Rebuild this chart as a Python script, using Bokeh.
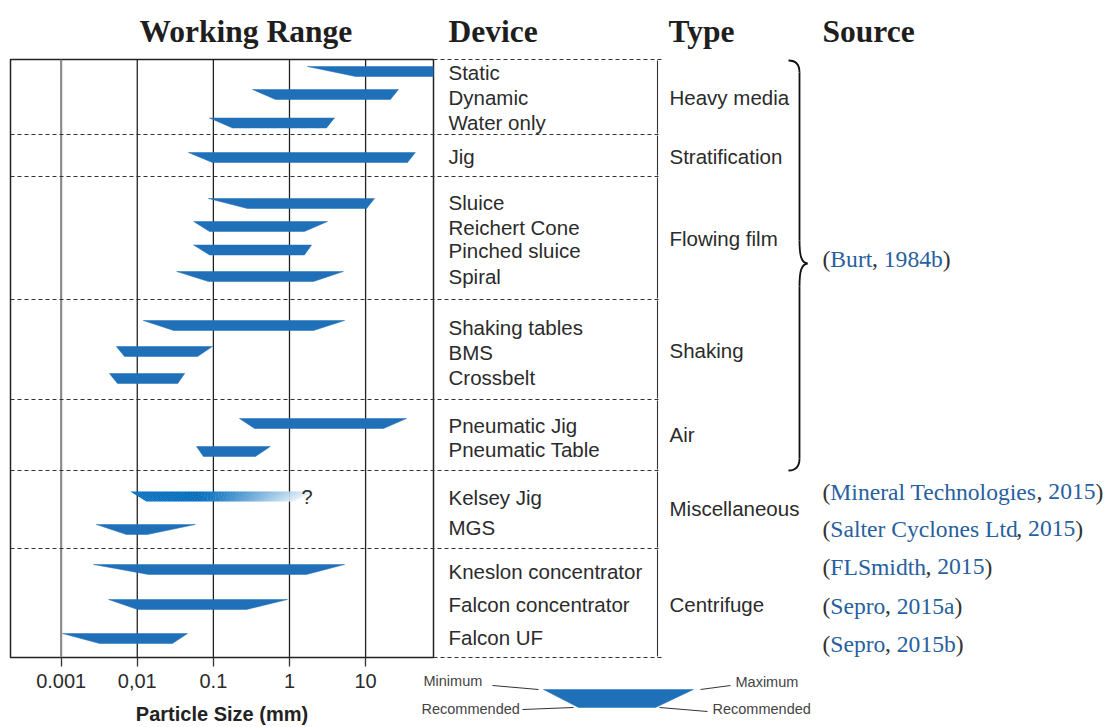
import numpy as np
from bokeh.plotting import figure
from bokeh.models import Range1d, LinearScale, FixedTicker, CustomJSTickFormatter
from bokeh.core.properties import value
from bokeh.embed import file_html
from bokeh.resources import INLINE

# ---------------- data ----------------
devices = ["Static", "Dynamic", "Water only", "Jig", "Sluice", "Reichert Cone",
           "Pinched sluice", "Spiral", "Shaking tables", "BMS", "Crossbelt",
           "Pneumatic Jig", "Pneumatic Table", "Kelsey Jig", "MGS",
           "Kneslon concentrator", "Falcon concentrator", "Falcon UF"]
size_min = [1.72, 0.327, 0.089, 0.047, 0.086, 0.055, 0.055, 0.033, 0.012, 0.0053,
            0.0043, 0.22, 0.060, 0.0081, 0.0029, 0.00266, 0.0042, 0.00104]
rec_min = [7.4, 0.655, 0.178, 0.097, 0.28, 0.089, 0.089, 0.086, 0.030, 0.0068,
           0.0055, 0.347, 0.074, 0.0132, 0.0072, 0.014, 0.0101, 0.0032]
rec_max = [100, 21.2, 3.06, 35.5, 10.3, 1.57, 1.57, 2.07, 2.07, 0.062,
           0.034, 17.2, 0.357, 1.13, 0.0136, 1.67, 0.272, 0.029]
size_max = [100, 27.0, 3.9, 45.0, 13.1, 3.16, 1.95, 5.1, 5.3, 0.097,
            0.042, 34.5, 0.56, 2.07, 0.058, 5.3, 0.94, 0.0457]
uncertain = ["Kelsey Jig"]
types = ["Heavy media", "Stratification", "Flowing film", "Shaking", "Air",
         "Miscellaneous", "Centrifuge"]
cite_authors = ["Burt", "Mineral Technologies", "Salter Cyclones Ltd", "FLSmidth",
                "Sepro", "Sepro"]
cite_years = ["1984b", "2015", "2015", "2015", "2015a", "2015b"]
headers = ["Working Range", "Device", "Type", "Source"]
tick_values = [0.001, 0.01, 0.1, 1, 10]
tick_labels = ["0.001", "0,01", "0.1", "1", "10"]
key_labels = ["Minimum", "Maximum", "Recommended", "Recommended"]

# ---------------- layout (screen pixel positions) ----------------
bar_y = [71, 94, 122.5, 157, 203, 226, 249.5, 276, 325, 351, 378, 423, 451, 496,
         529, 569, 604, 638]
label_y = [72, 97, 122, 156, 202, 227, 250, 276, 327, 352, 377, 425, 449, 497,
           527, 571, 604, 637]
seps = [59, 134, 176, 299, 399, 470, 548, 657]
type_y = [97, 156, 238, 350, 434, 508, 604]
cite_y = [258, 491, 528, 566, 605, 643]
BAR_H = 10
X_LO, X_HI = 2.16e-4, 78.0
FRAME_L, FRAME_R = 10, 433
W = 1104
ARROW_X = 657

BLUE = "#1f70b8"
TXT = "#2b2b2b"
SANS = "Liberation Sans"
SERIF = "Liberation Serif"

p = figure(frame_width=FRAME_R - FRAME_L, frame_height=seps[-1] - seps[0],
           x_axis_type="log", x_range=Range1d(X_LO, X_HI),
           y_range=Range1d(seps[-1], seps[0]),
           min_border_left=FRAME_L, min_border_right=W - FRAME_R,
           min_border_top=seps[0], min_border_bottom=60,
           y_axis_location=None, toolbar_location=None, output_backend="svg")
p.extra_x_ranges = {"px": Range1d(FRAME_L, FRAME_R)}
p.extra_x_scales = {"px": LinearScale()}
p.xgrid.visible = False
p.ygrid.visible = False
p.outline_line_color = "#222"
p.outline_line_width = 1.5

ax = p.xaxis[0]
ax.ticker = FixedTicker(ticks=tick_values)
ax.formatter = CustomJSTickFormatter(args=dict(vals=tick_values, labs=tick_labels), code="""
for (let i = 0; i < vals.length; i++) {
  if (Math.abs(Math.log10(tick) - Math.log10(vals[i])) < 1e-6) return labs[i];
}
return "";
""")
ax.axis_line_color = None
ax.major_tick_in = 0
ax.major_tick_out = 9
ax.minor_tick_in = 0
ax.minor_tick_out = 0
ax.major_tick_line_color = "#333"
ax.major_tick_line_width = 1.3
ax.major_label_text_font = SANS
ax.major_label_text_font_size = "20px"
ax.major_label_text_color = TXT
ax.major_label_standoff = 7
ax.axis_label = "Particle Size (mm)"
ax.axis_label_text_font = SANS
ax.axis_label_text_font_style = "bold"
ax.axis_label_text_font_size = "20px"
ax.axis_label_text_color = "#222"
ax.axis_label_standoff = 12

# vertical decade lines
p.segment(x0=tick_values, x1=tick_values, y0=[seps[-1]] * 5, y1=[seps[0]] * 5,
          line_color=["#8c8c8c", "#222", "#222", "#222", "#222"],
          line_width=[2.2, 1.3, 1.3, 1.3, 1.3])

# trapezoid bars (top edge = min..max, bottom edge = recommended range)
xs, ys = [], []
for d, a, ra, rb, b, yc in zip(devices, size_min, rec_min, rec_max, size_max, bar_y):
    if d in uncertain:
        continue
    xs.append([a, b, rb, ra])
    ys.append([yc - BAR_H / 2, yc - BAR_H / 2, yc + BAR_H / 2, yc + BAR_H / 2])
p.patches(xs, ys, fill_color=BLUE, line_color=BLUE, line_width=0.5)

# uncertain range: fading gradient
for d, a, ra, rb, b, yc in zip(devices, size_min, rec_min, rec_max, size_max, bar_y):
    if d not in uncertain:
        continue
    N = 60
    la, lb, lra, lrb = np.log10([a, b, ra, rb])
    gx, gy, gc = [], [], []
    c0 = np.array([8, 112, 190])
    c1 = np.array([232, 242, 250])
    for k in range(N):
        t0, t1 = k / N, (k + 1) / N
        tx0 = la + (lb - la) * t0
        tx1 = la + (lb - la) * t1
        bx0 = lra + (lrb - lra) * t0
        bx1 = lra + (lrb - lra) * t1
        gx.append(list(10 ** np.array([tx0, tx1 + 0.004, bx1 + 0.004, bx0])))
        gy.append([yc - BAR_H / 2, yc - BAR_H / 2, yc + BAR_H / 2, yc + BAR_H / 2])
        tm = (t0 + t1) / 2
        f = 0 if tm < 0.35 else min(1.0, ((tm - 0.35) / 0.65) ** 1.2)
        c = (c0 + (c1 - c0) * f).astype(int)
        gc.append("#%02x%02x%02x" % tuple(c))
    p.patches(gx, gy, fill_color=gc, line_color=None)
    p.text(x=[b], y=[yc], text=["?"], x_offset=-12, text_font=value(SANS),
           text_font_size="20px", text_color=TXT, text_baseline="middle",
           text_align="left")

# ---------------- drawn outside the frame (pixel range, unclipped) ----------------
OV = dict(x_range_name="px", level="overlay")

# headers
p.text(x=[139, 448, 668, 822], y=[31, 31, 31, 31], text=headers,
       text_font=value(SERIF), text_font_style="bold", text_font_size="31.5px",
       text_color="#1e1e1e", text_baseline="alphabetic", text_align="left", **OV)

# dashed separators
sx0 = [FRAME_R if (s == seps[0] or s == seps[-1]) else FRAME_L for s in seps]
p.segment(x0=sx0, x1=[661] * len(seps), y0=seps, y1=seps,
          line_color="#333", line_width=1.2, line_dash="4 3", **OV)

# double-headed arrows spanning each type group
tops = [s + 1 for s in seps[:-1]]
bots = [s - 1 for s in seps[1:]]
p.segment(x0=[ARROW_X] * len(tops), x1=[ARROW_X] * len(tops), y0=tops, y1=bots,
          line_color="#333", line_width=1.1, **OV)
hx, hy = [], []
for t, b in zip(tops, bots):
    hx.append([ARROW_X, ARROW_X + 3.2, ARROW_X, ARROW_X - 3.2])
    hy.append([t, t + 8, t + 5.5, t + 8])
    hx.append([ARROW_X, ARROW_X + 3.2, ARROW_X, ARROW_X - 3.2])
    hy.append([b, b - 8, b - 5.5, b - 8])
p.patches(hx, hy, fill_color="#333", line_color="#333", line_width=0.6, **OV)

p.text(x=[448] * len(devices), y=label_y, text=devices, text_font=value(SANS),
       text_font_size="20.5px", text_color=TXT, text_baseline="middle",
       text_align="left", **OV)
p.text(x=[669] * len(types), y=type_y, text=types, text_font=value(SANS),
       text_font_size="20.5px", text_color=TXT, text_baseline="middle",
       text_align="left", **OV)

# curly brace
p.bezier(x0=[788, 799, 807, 799], y0=[60, 240, 263, 458],
         x1=[799, 807, 799, 788], y1=[72, 263, 286, 470],
         cx0=[796, 799, 801, 799], cy0=[60, 256, 264, 466],
         cx1=[799, 801, 799, 796], cy1=[64, 262, 270, 470],
         line_color="#111", line_width=1.8, **OV)
p.segment(x0=[799, 799], x1=[799, 799], y0=[72, 286], y1=[240, 458],
          line_color="#111", line_width=1.8, **OV)

# citations
TW = {"(": .333, ")": .333, " ": .25, ",": .25, "a": .444, "b": .5, "c": .444,
      "d": .5, "e": .444, "f": .333, "g": .5, "h": .5, "i": .278, "l": .278,
      "m": .778, "n": .5, "o": .5, "p": .5, "r": .333, "s": .389, "t": .278,
      "u": .5, "y": .5, "B": .667, "C": .667, "F": .556, "L": .611, "M": .889,
      "S": .556, "T": .611}
CS = 23.6


def tw(s):
    return sum(TW.get(ch, .5) for ch in s) * CS


bx, by, bt, kx, ky, kt = [], [], [], [], [], []
for au, yr, yy in zip(cite_authors, cite_years, cite_y):
    x = 822
    kx.append(x); ky.append(yy); kt.append("(")
    x += tw("(")
    bx.append(x); by.append(yy); bt.append(au)
    x += tw(au) - 0.08 * len(au)
    kx.append(x); ky.append(yy); kt.append(",")
    x += tw(", ")
    bx.append(x); by.append(yy); bt.append(yr)
    x += tw(yr)
    kx.append(x); ky.append(yy); kt.append(")")
p.text(x=kx, y=ky, text=kt, text_font=value(SERIF), text_font_size="%.1fpx" % CS,
       text_color="#333", text_baseline="middle", text_align="left", **OV)
p.text(x=bx, y=by, text=bt, text_font=value(SERIF), text_font_size="%.1fpx" % CS,
       text_color="#27609e", text_baseline="middle", text_align="left", **OV)

# key at the bottom
p.patch(x=[543, 693, 655, 578], y=[689, 689, 707, 707], fill_color=BLUE,
        line_color=BLUE, line_width=0.5, **OV)
p.segment(x0=[492, 700, 522, 659], y0=[685, 689, 709, 707],
          x1=[538, 730, 573, 707], y1=[689, 685, 707, 711],
          line_color="#333", line_width=1, **OV)
p.text(x=[423, 735, 421, 712], y=[680, 681, 708, 708], text=key_labels,
       text_font=value(SANS), text_font_size="14.5px", text_color="#444",
       text_baseline="middle", text_align="left", **OV)

open("out.html", "w").write(file_html(p, INLINE))
